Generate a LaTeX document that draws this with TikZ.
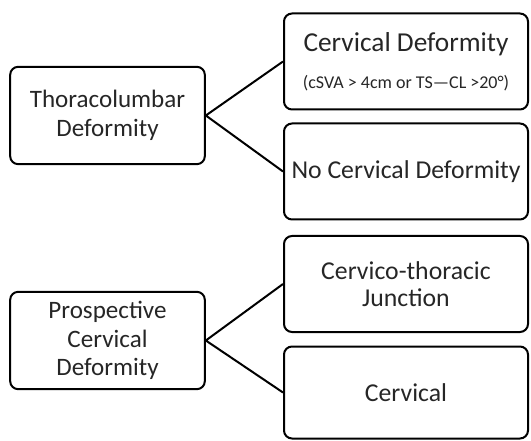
\documentclass[tikz,border=0pt]{standalone}
\usepackage{fontspec}
\setmainfont{Carlito}

\begin{document}
\begin{tikzpicture}[x=0.75pt, y=-0.75pt,
        main/.style = {draw, rounded corners=6pt, line width=1.5pt, align=center, text=black!85, inner sep=0pt},
        leftbox/.style = {main, minimum width=146pt, minimum height=73pt, font=\fontsize{18.8}{21.5}\selectfont},
        rightbox/.style = {main, minimum width=183pt, minimum height=72pt, font=\fontsize{19.3}{20.5}\selectfont}]
        \useasboundingbox (0,0) rectangle (531,441);

        \node at (406, 61.5) [rightbox] (cd) {{\fontsize{20.5}{22}\selectfont Cervical Deformity}\\[7pt]{\fontsize{13.5}{15}\selectfont (cSVA > 4cm or TS—CL >20°)}};
        \node at (406, 171.5) [rightbox] (ncd) {No Cervical Deformity};
        \node at (406, 284) [rightbox] (ctj) {Cervico-thoracic\\Junction};
        \node at (406, 392.5) [rightbox, minimum height=69pt] (cerv) {Cervical};

        \node at (107.5, 115.5) [leftbox] (thor) {Thoracolumbar\\Deformity};
        \node at (107.5, 340.5) [leftbox] (prosp) {Prospective\\Cervical\\Deformity};

        \path[draw, line width=1.5pt]
        (thor.east) -- (cd.west)
        (thor.east) -- (ncd.west)
        (prosp.east) -- (ctj.west)
        (prosp.east) -- (cerv.west);
    \end{tikzpicture}
\end{document}
